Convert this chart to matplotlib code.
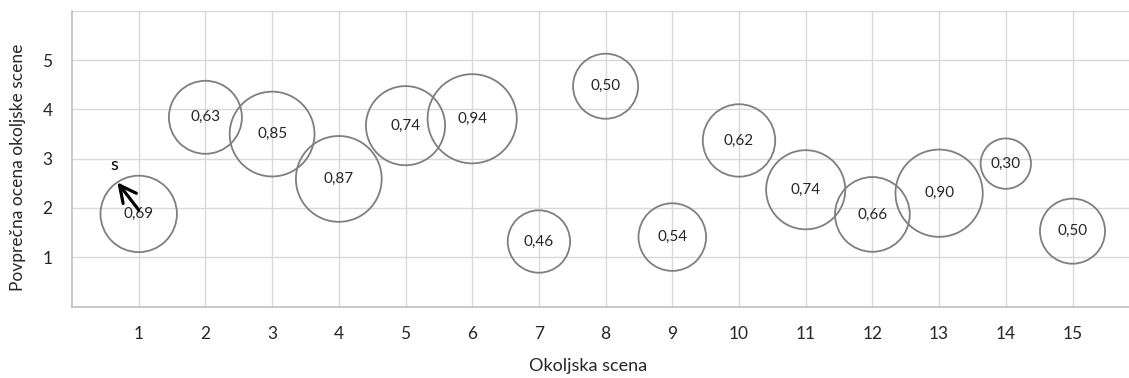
import matplotlib
matplotlib.use("Agg")
import matplotlib.pyplot as plt
import numpy as np

plt.rcParams['font.family'] = ['Lato', 'DejaVu Sans']

# povprecna ocena in velikost mehurcka za vsako okoljsko sceno
scene = [1, 2, 3, 4, 5, 6, 7, 8, 9, 10, 11, 12, 13, 14, 15]
ocena = [1.88, 3.84, 3.50, 2.59, 3.67, 3.81, 1.32, 4.47, 1.41, 3.37, 2.37, 1.87, 2.30, 2.90, 1.53]
velikost = [0.69, 0.63, 0.85, 0.87, 0.74, 0.94, 0.46, 0.50, 0.54, 0.62, 0.74, 0.66, 0.90, 0.30, 0.50]
y_ticks = [1, 2, 3, 4, 5]

txt = '#262626'
W, H = 1129, 378
left, bottom, top = 72, 306.6, 10.8
fig = plt.figure(figsize=(W / 100, H / 100), dpi=100)
ax = fig.add_axes([left / W, 1 - bottom / H, 1 - left / W, (bottom - top) / H])

# bubble area proportional to value (radius ~46 px * sqrt(v))
s = (2 * 46 * 0.72) ** 2 * np.array(velikost)
ax.scatter(scene, ocena, s=s, facecolors='none', edgecolors='#7f7f7f', linewidths=1.3, zorder=3)
for x, y, v in zip(scene, ocena, velikost):
  ax.text(x, y, f'{v:.2f}'.replace('.', ','), ha='center', va='center', fontsize=11, color=txt, zorder=4)

# puscica "s" pri prvi sceni
ax.annotate('', xy=(0.68, 2.52), xytext=(1.0, 1.96),
            arrowprops=dict(arrowstyle='->', lw=2.3, color='black', mutation_scale=30,
                            shrinkA=0, shrinkB=0), zorder=5)
ax.text(0.63, 2.87, 's', ha='center', va='center', fontsize=13, color='black', zorder=5)

ax.set_xlim(0, (W - left) / 66.7)
ax.set_ylim(0, 6)
ax.set_xticks(scene)
ax.set_yticks(y_ticks)
ax.tick_params(length=0, labelsize=12.5, labelcolor=txt)
ax.tick_params(axis='x', pad=14)
ax.tick_params(axis='y', pad=14)
ax.set_axisbelow(True)
ax.grid(True, color='#d9d9d9', lw=1)
ax.axhline(6, color='#d9d9d9', lw=1, zorder=0)
for sp in ['top', 'right']:
  ax.spines[sp].set_visible(False)
for sp in ['left', 'bottom']:
  ax.spines[sp].set_color('#bfbfbf')
  ax.spines[sp].set_linewidth(1.2)

ax.set_xlabel('Okoljska scena', fontsize=13, color=txt)
ax.set_ylabel('Povprečna ocena okoljske scene', fontsize=12.5, color=txt)
ax.xaxis.set_label_coords((588 - left) / (W - left), -(358 - bottom) / (bottom - top))
ax.yaxis.set_label_coords(-(left - 26) / (W - left), (bottom - 167.5) / (bottom - top))

fig.savefig('out.png', dpi=100)
